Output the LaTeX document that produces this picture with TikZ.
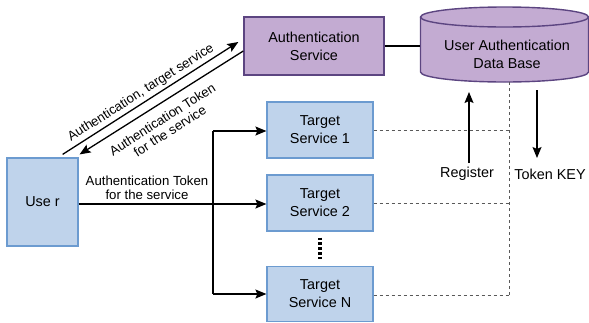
\documentclass[tikz,border=0pt]{standalone}
\usepackage{fontspec}
\setmainfont{Liberation Sans}
\usetikzlibrary{arrows.meta,calc}
\definecolor{bfill}{HTML}{BFD3EB}
\definecolor{bdraw}{HTML}{6C9BD0}
\definecolor{pfill}{HTML}{C3ABD2}
\definecolor{pdraw}{HTML}{5C4581}
\tikzset{
  bbox/.style={draw=bdraw, fill=bfill, line width=1.2pt, inner sep=0pt, align=center,
    font=\fontsize{14.4}{18}\selectfont},
  pbox/.style={draw=pdraw, fill=pfill, line width=1.4pt, inner sep=0pt, align=center,
    font=\fontsize{14.4}{18}\selectfont},
  arr/.style={line width=1.3pt, -{Stealth[length=11pt,width=9pt,inset=2pt]}},
  conn/.style={line width=1.3pt},
  dsh/.style={draw=black!65, line width=0.9pt, dash pattern=on 3pt off 3pt},
  lbl/.style={align=center, inner sep=0pt, font=\fontsize{13.2}{14}\selectfont},
  biglbl/.style={align=center, inner sep=0pt, font=\fontsize{14.4}{18}\selectfont},
}
\begin{document}
\begin{tikzpicture}[x=1pt,y=-1pt]
\useasboundingbox (0,0) rectangle (589,322);
% nodes
\node[pbox, minimum width=140pt, minimum height=58pt] (au) at (314,46) {Authentication\\Service};
\node[bbox, minimum width=106pt, minimum height=56pt] (t1) at (320,130) {Target\\Service 1};
\node[bbox, minimum width=106pt, minimum height=56pt] (t2) at (320,203) {Target\\Service 2};
\node[bbox, minimum width=106pt, minimum height=55pt] (tn) at (320,294) {Target\\Service N};
\node[bbox, minimum width=71pt, minimum height=88pt] (u) at (42.5,202) {Use r};
% database cylinder
\node[minimum width=168pt, minimum height=75pt, inner sep=0pt] (db) at (504.5,44.5) {};
\fill[pfill] (420.5,17) -- (420.5,72) arc[start angle=180, end angle=360, x radius=84pt, y radius=10pt] -- (588.5,17) -- cycle;
\draw[pdraw, line width=1.4pt] (420.5,17) -- (420.5,72) arc[start angle=180, end angle=360, x radius=84pt, y radius=10pt] -- (588.5,17);
\draw[pdraw, fill=pfill, line width=1.4pt] (504.5,17) ellipse [x radius=84pt, y radius=10pt];
\node[biglbl] (dbt) at (507,54) {User Authentication\\Data Base};
% auth - db
\draw[conn] (au.east) -- (au.east -| db.west);
% diagonal arrows
\draw[arr] ([xshift=-16pt,yshift=3pt]u.north east) -- ([xshift=-5pt,yshift=4pt]au.west);
\draw[arr] ([yshift=-5pt]au.west) -- ([xshift=1pt,yshift=3pt]u.north east);
\node[lbl, rotate=32.5] (l1) at (141,93) {Authentication, target service};
\node[lbl, rotate=32.5] (l2) at (166,125) {Authentication Token\\for the service};
% user -> targets
\draw[arr] ([yshift=-2pt]u.east) -- ([yshift=-2pt]u.east -| t2.west);
\node[lbl] (l3) at (147,188) {Authentication Token\\for the service};
\coordinate (b1) at (213,131);
\coordinate (b2) at (213,294);
\draw[conn] (b1) -- (b2);
\draw[arr] (b1) -- (b1 -| t1.west);
\draw[arr] (b2) -- (tn.west);
% dots
\draw[line width=3.5pt, dash pattern=on 2.6pt off 2.2pt] ([yshift=-6pt]t2.south) -- ([yshift=5pt]tn.north);
% register / token key
\coordinate (r0) at (469,163);
\coordinate (r1) at (469,92);
\coordinate (k0) at (537,90);
\coordinate (k1) at (537,158);
\draw[arr] (r0) -- (r1);
\draw[arr] (k0) -- (k1);
\node[biglbl] (reg) at (467,174) {Register};
\node[biglbl] (tk) at (550,174) {Token KEY};
% dashed lines
\coordinate (dv) at (509,82);
\coordinate (dn) at (509,295);
\draw[dsh] (dv) -- (dn);
\draw[dsh] (t1.east) -- (t1.east -| dv);
\draw[dsh] (t2.east) -- (t2.east -| dv);
\draw[dsh] ([yshift=-1pt]tn.east) -- ([yshift=-1pt]tn.east -| dv);
\end{tikzpicture}
\end{document}
